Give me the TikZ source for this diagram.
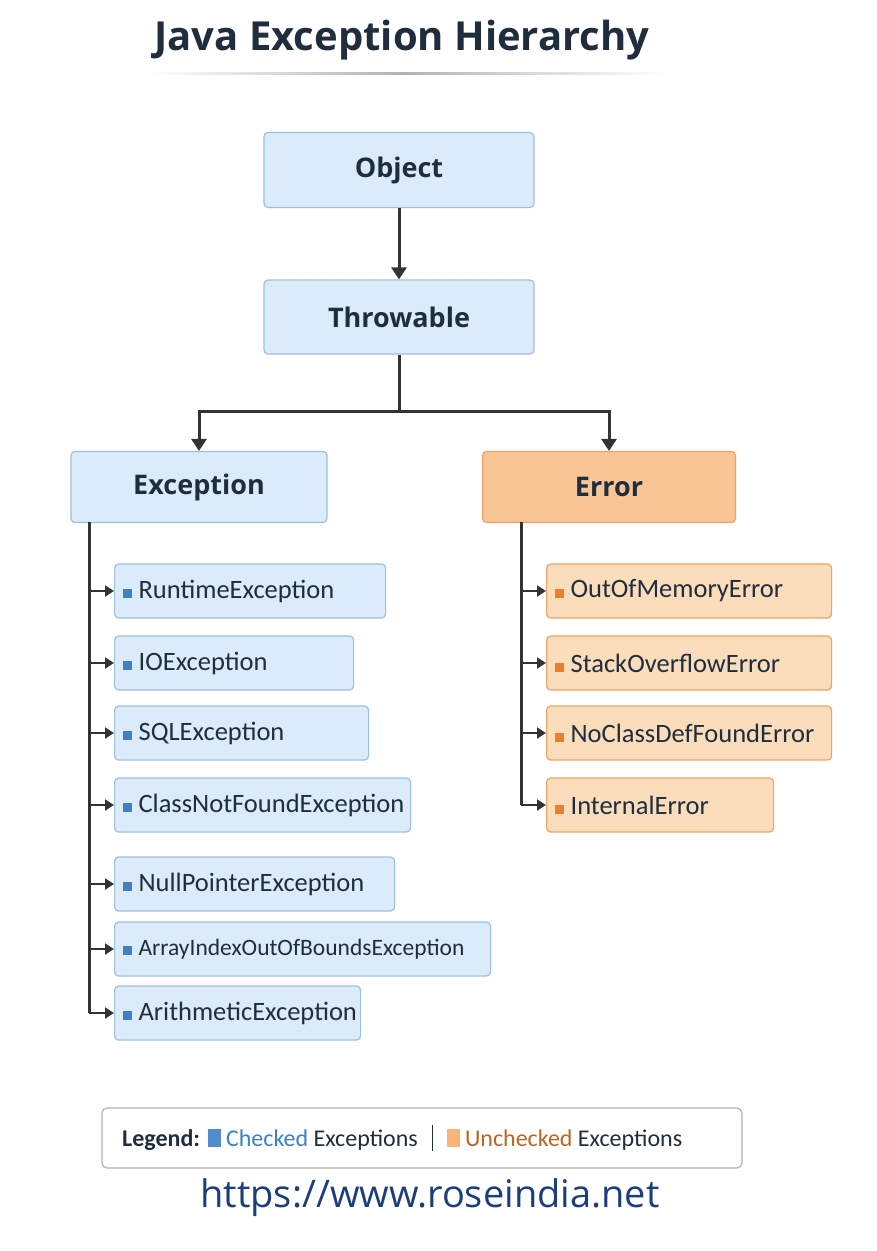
\documentclass[tikz,border=0pt]{standalone}
\usepackage{fontspec}
\setmainfont{Carlito}
\newfontfamily\titlefont{Open Sans}
\usetikzlibrary{arrows.meta}
\definecolor{bfill}{HTML}{DCEBF9}
\definecolor{bdraw}{HTML}{9DBFE0}
\definecolor{ofill}{HTML}{FBDDBC}
\definecolor{odraw}{HTML}{E8A468}
\definecolor{ofill2}{HTML}{F7B57A}
\definecolor{txt}{HTML}{1F2D3D}
\definecolor{sqb}{HTML}{3F7FC4}
\definecolor{sqo}{HTML}{E97F2E}
\definecolor{navy}{HTML}{1B3F7A}
\begin{document}
\begin{tikzpicture}[x=1pt,y=-1pt,
  box/.style={draw=bdraw,fill=bfill,rounded corners=4pt,line width=1.2pt,text=txt,inner sep=0},
  obox/.style={draw=odraw,fill=ofill,rounded corners=4pt,line width=1.2pt,text=txt,inner sep=0},
  big/.style={font=\titlefont\fontsize{27}{30}\selectfont\bfseries},
  small/.style={font=\fontsize{26.5}{30}\selectfont, anchor=west, align=left, inner xsep=8pt},
  con/.style={line width=3pt,draw=black!80},
  arr/.style={con,-{Triangle[length=12pt,width=15pt]}},
  sarr/.style={line width=2.2pt,draw=black!80,-{Triangle[length=9pt,width=11pt]}}]
\useasboundingbox (0,0) rectangle (876,1251);
\node[font=\titlefont\fontsize{40}{44}\selectfont\bfseries,text=txt] (title) at (402,40) {Java Exception Hierarchy};
\shade[left color=white,right color=white,middle color=black!30] (145,72) rectangle (665,74);
\node[box,big,minimum width=270,minimum height=75] (obj) at (399,170) {Object};
\node[box,big,minimum width=270,minimum height=74] (thr) at (399,317) {Throwable};
\node[box,big,minimum width=256,minimum height=71] (exc) at (199,487) {Exception};
\node[obox,big,fill=ofill2!60!ofill,minimum width=253,minimum height=71] (err) at (609,487) {Error};
\draw[arr] (obj) -- (thr);
\coordinate (bus) at (399,411);
\draw[con] (thr.south) -- (bus);
\draw[arr] (bus) -| (exc.north);
\draw[arr] (bus) -| (err.north);
\newcommand{\childL}[4]{\node[box,small,text width=#3-16,minimum height=54] (#1) at (114,#2) {\mbox{{\color{sqb}\rule{9pt}{9pt}}\hspace{7pt}#4}};}
\newcommand{\childR}[4]{\node[obox,small,text width=#3-16,minimum height=54] (#1) at (546,#2) {\mbox{{\color{sqo}\rule{9pt}{9pt}}\hspace{7pt}#4}};}
\childL{c1}{591}{271}{RuntimeException}
\childL{c2}{663}{239}{IOException}
\childL{c3}{733}{254}{SQLException}
\childL{c4}{805}{296}{ClassNotFoundException}
\childL{c5}{884}{280}{NullPointerException}
\childL{c6}{949}{376}{\fontsize{23.5}{28}\selectfont ArrayIndexOutOfBoundsException}
\childL{c7}{1013}{246}{ArithmeticException}
\childR{d1}{591}{285}{OutOfMemoryError}
\childR{d2}{663}{285}{StackOverflowError}
\childR{d3}{733}{285}{NoClassDefFoundError}
\childR{d4}{805}{227}{InternalError}
\coordinate (lv) at (89,522);
\coordinate (rv) at (521,522);
\draw[con] (lv) -- (89,1013);
\draw[con] (rv) -- (521,805);
\foreach \n in {c1,c2,c3,c4,c5,c6,c7}{\draw[sarr] (89,0 |- \n.west) -- (\n.west);}
\foreach \n in {d1,d2,d3,d4}{\draw[sarr] (521,0 |- \n.west) -- (\n.west);}
\node[draw=black!30,line width=1.2pt,rounded corners=5pt,minimum width=640,minimum height=60,fill=white] (leg) at (422,1138) {};
\node[anchor=west,font=\fontsize{24}{28}\selectfont,text=txt,inner sep=0] (legt) at (122,1138) {\textbf{Legend:}\hspace{8pt}{\color{sqb!90}\rule[-1pt]{13pt}{18pt}}\hspace{5pt}{\color{sqb}Checked} Exceptions\hspace{14pt}\rule[-5pt]{1.2pt}{26pt}\hspace{14pt}{\color{ofill2}\rule[-1pt]{13pt}{18pt}}\hspace{5pt}{\color{sqo!80!black}Unchecked} Exceptions};
\node[font=\titlefont\fontsize{38}{42}\selectfont,text=navy] (url) at (430,1198) {https://www.roseindia.net};
\end{tikzpicture}
\end{document}
